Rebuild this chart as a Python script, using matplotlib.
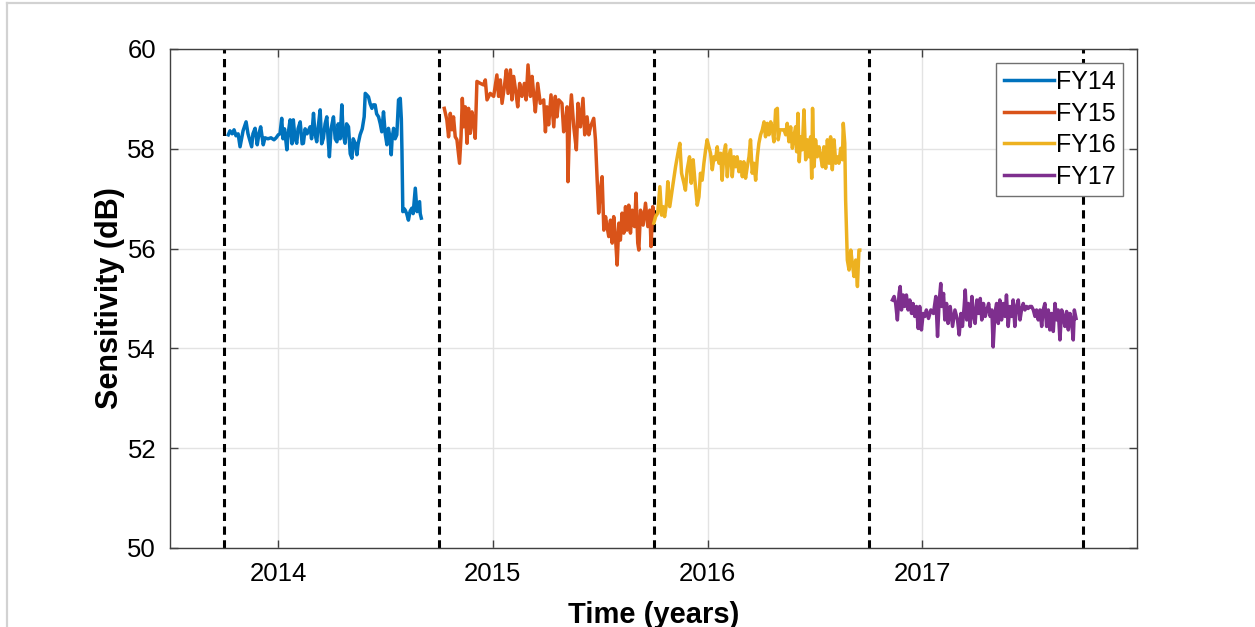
import numpy as np
import matplotlib.pyplot as plt
from matplotlib.lines import Line2D

plt.rcParams['font.family'] = ['Liberation Sans', 'DejaVu Sans']

# fiscal year sensitivity records (decimal year, dB)
fy14_t = [2013.768, 2013.776, 2013.786, 2013.795, 2013.804, 2013.814, 2013.823, 2013.837,
          2013.851, 2013.860, 2013.877, 2013.883, 2013.893, 2013.903, 2013.911, 2013.919,
          2013.931, 2013.939, 2013.953, 2013.967, 2013.981, 2013.991, 2014.001, 2014.009,
          2014.017, 2014.023, 2014.030, 2014.041, 2014.047, 2014.056, 2014.065, 2014.071,
          2014.079, 2014.087, 2014.093, 2014.103, 2014.112, 2014.118, 2014.126, 2014.135,
          2014.149, 2014.156, 2014.165, 2014.172, 2014.180, 2014.186, 2014.196, 2014.203,
          2014.211, 2014.219, 2014.227, 2014.233, 2014.239, 2014.247, 2014.258, 2014.266,
          2014.274, 2014.280, 2014.289, 2014.297, 2014.303, 2014.312, 2014.319, 2014.328,
          2014.336, 2014.344, 2014.350, 2014.359, 2014.367, 2014.373, 2014.382, 2014.392,
          2014.401, 2014.406, 2014.413, 2014.421, 2014.429, 2014.437, 2014.443, 2014.452,
          2014.459, 2014.468, 2014.476, 2014.483, 2014.491, 2014.499, 2014.507, 2014.514,
          2014.522, 2014.527, 2014.531, 2014.538, 2014.545, 2014.553, 2014.561, 2014.569,
          2014.574, 2014.577, 2014.581, 2014.587, 2014.592, 2014.599, 2014.607, 2014.615,
          2014.623, 2014.629, 2014.639, 2014.647, 2014.653, 2014.659, 2014.662, 2014.667]
fy14_v = [58.28, 58.36, 58.30, 58.38, 58.26, 58.30, 58.04, 58.36,
          58.54, 58.30, 58.04, 58.30, 58.41, 58.08, 58.30, 58.44,
          58.08, 58.22, 58.20, 58.22, 58.18, 58.22, 58.28, 58.30,
          58.61, 58.20, 58.40, 57.98, 58.30, 58.58, 58.10, 58.58,
          58.20, 58.11, 58.40, 58.54, 58.10, 58.11, 58.40, 58.30,
          58.44, 58.20, 58.71, 58.30, 58.14, 58.40, 58.78, 58.10,
          58.21, 58.50, 58.64, 58.20, 57.84, 58.40, 58.64, 58.20,
          58.14, 58.50, 58.20, 58.88, 58.30, 58.11, 58.50, 58.44,
          57.90, 57.81, 58.20, 58.11, 57.88, 58.10, 58.28, 58.40,
          58.64, 59.11, 59.08, 59.04, 58.90, 58.81, 58.88, 58.88,
          58.70, 58.64, 58.50, 58.34, 58.74, 58.30, 58.08, 58.41,
          58.20, 57.88, 58.20, 58.41, 58.20, 58.28, 58.98, 59.01,
          58.60, 57.94, 56.74, 56.80, 56.77, 56.70, 56.57, 56.75,
          56.81, 56.70, 57.21, 56.74, 56.90, 56.94, 56.70, 56.61]

fy15_t = [2014.774, 2014.786, 2014.794, 2014.802, 2014.810, 2014.817, 2014.825, 2014.833,
          2014.845, 2014.852, 2014.858, 2014.864, 2014.872, 2014.880, 2014.887, 2014.895,
          2014.903, 2014.911, 2014.918, 2014.926, 2014.942, 2014.957, 2014.965, 2014.973,
          2014.988, 2015.004, 2015.019, 2015.027, 2015.035, 2015.043, 2015.054, 2015.063,
          2015.071, 2015.082, 2015.089, 2015.097, 2015.108, 2015.116, 2015.125, 2015.136,
          2015.147, 2015.155, 2015.164, 2015.175, 2015.183, 2015.190, 2015.198, 2015.209,
          2015.221, 2015.237, 2015.245, 2015.252, 2015.260, 2015.271, 2015.284, 2015.291,
          2015.299, 2015.307, 2015.322, 2015.330, 2015.338, 2015.346, 2015.350, 2015.358,
          2015.366, 2015.377, 2015.389, 2015.397, 2015.408, 2015.420, 2015.428, 2015.439,
          2015.447, 2015.455, 2015.470, 2015.478, 2015.486, 2015.493, 2015.501, 2015.509,
          2015.517, 2015.525, 2015.532, 2015.540, 2015.548, 2015.556, 2015.563, 2015.571,
          2015.579, 2015.587, 2015.594, 2015.602, 2015.610, 2015.618, 2015.625, 2015.633,
          2015.641, 2015.649, 2015.660, 2015.667, 2015.675, 2015.680, 2015.688, 2015.700,
          2015.711, 2015.722, 2015.731, 2015.737, 2015.745, 2015.750]
fy15_v = [58.81, 58.58, 58.24, 58.71, 58.38, 58.64, 58.24, 58.18,
          57.71, 58.24, 59.01, 58.44, 58.84, 58.11, 58.81, 58.31,
          58.74, 58.51, 58.21, 59.35, 59.31, 59.28, 59.38, 58.98,
          59.11, 59.05, 59.48, 59.05, 59.38, 58.91, 59.25, 59.58,
          59.11, 59.58, 58.98, 59.45, 59.11, 58.84, 59.31, 59.05,
          59.31, 58.98, 59.68, 59.05, 59.45, 59.11, 58.74, 59.31,
          58.91, 58.98, 58.34, 58.84, 58.48, 59.08, 58.44, 59.05,
          58.64, 58.98, 58.91, 58.34, 58.51, 58.84, 57.34, 58.58,
          59.08, 58.44, 57.98, 58.91, 58.44, 59.01, 58.28, 58.64,
          58.28, 58.44, 58.61, 58.18, 57.37, 56.71, 57.17, 57.44,
          56.37, 56.64, 56.44, 56.24, 56.57, 56.11, 56.64, 56.24,
          55.67, 56.51, 56.17, 56.71, 56.31, 56.84, 56.37, 56.87,
          56.31, 56.77, 56.44, 57.11, 56.11, 55.97, 56.77, 56.47,
          56.91, 56.44, 56.77, 56.04, 56.84, 56.61]

fy16_t = [2015.750, 2015.758, 2015.768, 2015.778, 2015.786, 2015.793, 2015.800, 2015.809,
          2015.815, 2015.824, 2015.835, 2015.851, 2015.862, 2015.871, 2015.879, 2015.890,
          2015.897, 2015.905, 2015.916, 2015.924, 2015.933, 2015.941, 2015.952, 2015.960,
          2015.967, 2015.975, 2015.983, 2015.991, 2015.998, 2016.006, 2016.014, 2016.022,
          2016.030, 2016.037, 2016.045, 2016.053, 2016.061, 2016.068, 2016.076, 2016.084,
          2016.092, 2016.099, 2016.107, 2016.115, 2016.123, 2016.131, 2016.138, 2016.146,
          2016.154, 2016.162, 2016.169, 2016.177, 2016.185, 2016.193, 2016.200, 2016.208,
          2016.216, 2016.224, 2016.232, 2016.239, 2016.247, 2016.255, 2016.263, 2016.270,
          2016.278, 2016.286, 2016.294, 2016.301, 2016.309, 2016.317, 2016.325, 2016.329,
          2016.337, 2016.348, 2016.356, 2016.364, 2016.371, 2016.379, 2016.387, 2016.395,
          2016.402, 2016.410, 2016.415, 2016.421, 2016.427, 2016.434, 2016.441, 2016.449,
          2016.457, 2016.465, 2016.472, 2016.480, 2016.485, 2016.489, 2016.496, 2016.503,
          2016.511, 2016.519, 2016.527, 2016.535, 2016.542, 2016.550, 2016.558, 2016.566,
          2016.573, 2016.581, 2016.589, 2016.597, 2016.604, 2016.612, 2016.620, 2016.628,
          2016.632, 2016.639, 2016.643, 2016.651, 2016.659, 2016.667, 2016.674, 2016.682,
          2016.690, 2016.698, 2016.705, 2016.709]
fy16_v = [56.51, 56.64, 56.71, 57.24, 56.67, 56.84, 56.64, 56.91,
          57.34, 56.84, 57.17, 57.64, 57.91, 58.11, 57.51, 57.31,
          57.17, 57.58, 57.84, 57.31, 57.78, 57.37, 56.87, 57.04,
          57.51, 57.37, 57.71, 57.98, 58.18, 58.04, 57.91, 57.58,
          57.84, 57.78, 58.04, 57.71, 57.91, 57.37, 57.91, 58.08,
          57.44, 57.84, 57.98, 57.44, 57.84, 57.64, 57.84, 57.54,
          57.74, 57.44, 57.74, 57.41, 57.64, 57.84, 58.18, 57.51,
          57.71, 57.37, 57.84, 58.11, 58.28, 58.38, 58.54, 58.24,
          58.51, 58.28, 58.54, 58.41, 58.14, 58.78, 58.81, 58.18,
          58.38, 58.38, 58.38, 58.28, 58.51, 58.14, 58.44, 58.01,
          58.24, 58.44, 57.94, 58.71, 57.74, 58.24, 57.98, 58.78,
          57.78, 58.18, 57.84, 58.24, 57.41, 58.81, 57.64, 58.18,
          57.84, 58.04, 57.84, 57.64, 58.04, 57.61, 58.18, 57.71,
          58.24, 57.58, 58.18, 57.71, 57.84, 57.71, 58.01, 57.78,
          58.51, 58.11, 56.97, 55.77, 55.57, 55.97, 55.71, 55.44,
          55.77, 55.24, 55.97, 55.97]

fy17_t = [2016.861, 2016.869, 2016.876, 2016.884, 2016.892, 2016.897, 2016.903, 2016.911,
          2016.918, 2016.926, 2016.934, 2016.942, 2016.950, 2016.957, 2016.965, 2016.973,
          2016.981, 2016.988, 2016.996, 2017.004, 2017.012, 2017.019, 2017.029, 2017.040,
          2017.052, 2017.063, 2017.071, 2017.078, 2017.086, 2017.091, 2017.099, 2017.105,
          2017.113, 2017.120, 2017.130, 2017.141, 2017.152, 2017.164, 2017.172, 2017.180,
          2017.187, 2017.195, 2017.200, 2017.207, 2017.214, 2017.223, 2017.231, 2017.239,
          2017.246, 2017.254, 2017.262, 2017.270, 2017.277, 2017.285, 2017.293, 2017.301,
          2017.309, 2017.316, 2017.324, 2017.330, 2017.338, 2017.346, 2017.354, 2017.361,
          2017.369, 2017.377, 2017.385, 2017.392, 2017.400, 2017.408, 2017.416, 2017.423,
          2017.431, 2017.439, 2017.447, 2017.455, 2017.462, 2017.470, 2017.478, 2017.486,
          2017.493, 2017.501, 2017.509, 2017.517, 2017.525, 2017.532, 2017.540, 2017.548,
          2017.556, 2017.563, 2017.571, 2017.579, 2017.587, 2017.594, 2017.602, 2017.610,
          2017.618, 2017.626, 2017.633, 2017.641, 2017.649, 2017.657, 2017.664, 2017.672,
          2017.680, 2017.688, 2017.696, 2017.703, 2017.708, 2017.716]
fy17_v = [54.97, 55.04, 54.90, 54.57, 55.10, 55.24, 54.77, 55.07,
          54.84, 55.07, 54.77, 54.97, 54.70, 54.90, 54.64, 54.84,
          54.40, 54.84, 54.37, 54.70, 54.64, 54.77, 54.60, 54.77,
          54.70, 55.04, 54.24, 54.90, 55.30, 54.84, 55.10, 54.57,
          54.90, 54.50, 54.84, 54.44, 54.77, 54.57, 54.27, 54.70,
          54.44, 54.84, 55.17, 54.57, 54.90, 54.44, 55.04, 54.64,
          54.50, 54.97, 54.70, 55.00, 54.57, 54.90, 54.64, 54.77,
          54.90, 54.64, 54.77, 54.03, 54.70, 54.90, 54.50, 54.97,
          54.57, 54.90, 54.64, 55.07, 54.44, 54.84, 54.64, 54.97,
          54.44, 54.84, 54.97, 54.57, 54.77, 54.90, 54.77, 54.84,
          54.80, 54.84, 54.84, 54.77, 54.64, 54.77, 54.57, 54.77,
          54.44, 54.77, 54.90, 54.44, 54.77, 54.37, 54.70, 54.34,
          54.90, 54.57, 54.77, 54.17, 54.77, 54.64, 54.44, 54.74,
          54.37, 54.70, 54.50, 54.17, 54.77, 54.60]

fy_bounds = [2013.75, 2014.75, 2015.75, 2016.75, 2017.75]
year_ticks = [2014, 2015, 2016, 2017]

colors = ['#0072BD', '#D95319', '#EDB120', '#7E2F8E']

fig = plt.figure(figsize=(12.55, 6.27), dpi=100)
ax = fig.add_axes([0.1355, 0.126, 0.7705, 0.7959])

for b in fy_bounds:
    ax.axvline(b, color='black', lw=2.2, dashes=(2.7, 1.8), zorder=1)

ax.plot(fy14_t, fy14_v, color=colors[0], lw=2.5, label='FY14', zorder=3)
ax.plot(fy15_t, fy15_v, color=colors[1], lw=2.5, label='FY15', zorder=3)
ax.plot(fy16_t, fy16_v, color=colors[2], lw=2.5, label='FY16', zorder=3)
ax.plot(fy17_t, fy17_v, color=colors[3], lw=2.5, label='FY17', zorder=3)

ax.set_xlim(2013.497, 2018.0)
ax.set_ylim(50, 60)
ax.set_xticks(year_ticks)
ax.set_yticks(np.arange(50, 61, 2))
ax.grid(True, color='#e3e3e3', lw=1)
ax.set_axisbelow(True)
ax.tick_params(direction='in', length=6, width=1, color='#404040',
               labelsize=18.5, top=True, right=True, pad=10)
for s in ax.spines.values():
    s.set_color('#404040')
    s.set_linewidth(1)

ax.set_xlabel('Time (years)', fontsize=21, fontweight='bold', labelpad=11)
ax.set_ylabel('Sensitivity (dB)', fontsize=22, fontweight='bold', labelpad=2)

leg = ax.legend(loc='upper right', fontsize=18, fancybox=False, framealpha=1,
                edgecolor='#707070', handlelength=2.0, handletextpad=0.1,
                labelspacing=0.3, borderpad=0.3, borderaxespad=0.55)
leg.get_frame().set_linewidth(1)

# light frame around the figure
fig.add_artist(Line2D([0.0056, 1.0], [0.995, 0.995], color='#d2d2d2', lw=1.6))
fig.add_artist(Line2D([0.0056, 0.0056], [0.0, 0.995], color='#d2d2d2', lw=1.6))

fig.savefig('out.png', dpi=100)
